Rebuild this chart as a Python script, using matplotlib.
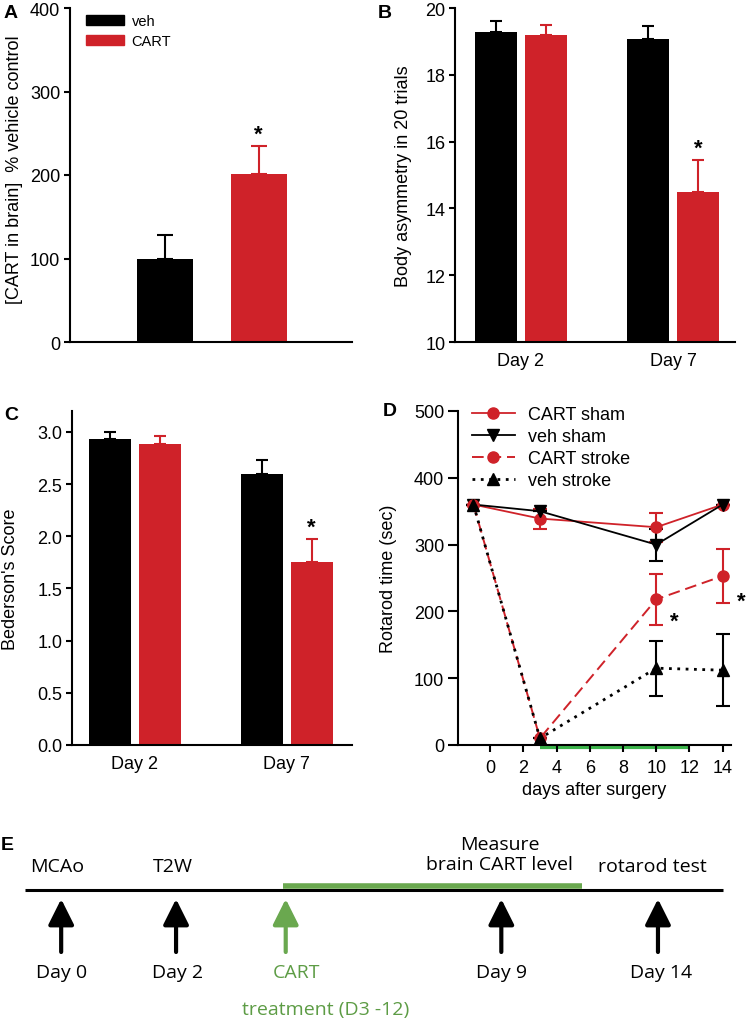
import numpy as np
import matplotlib
matplotlib.use("Agg")
import matplotlib.pyplot as plt
from matplotlib.patches import Patch
from matplotlib.lines import Line2D

# ============================================================
# DATA
# ============================================================

# --- Panel A: brain CART level
a_groups = ["veh", "CART"]
a_values = [100, 201]
a_errors = [28, 34]

# --- Panels B / C: behaviour per day
bc_days = ["Day 2", "Day 7"]

b_veh = [19.28, 19.08]
b_veh_err = [0.32, 0.37]
b_cart = [19.20, 14.50]
b_cart_err = [0.30, 0.95]

c_veh = [2.93, 2.60]
c_veh_err = [0.07, 0.13]
c_cart = [2.88, 1.75]
c_cart_err = [0.08, 0.22]

# --- Panel D: rotarod
d_days = [-1, 3, 10, 14]
cart_sham = [360, 339, 326, 360]
cart_sham_err = [0, 15, 22, 0]
veh_sham = [360, 350, 300, 360]
veh_sham_err = [0, 0, 24, 0]
cart_stroke = [360, 10, 218, 253]
cart_stroke_err = [0, 0, 38, 41]
veh_stroke = [360, 10, 115, 112]
veh_stroke_err = [0, 0, 41, 54]
treatment_days = [3, 12]
d_sig_days = [11.1, 15.1]
d_sig_values = [185, 215]

# --- Panel E: timeline (schematic positions, 0-100 across the figure)
timeline_span = [3.4, 96.9]
treatment_span = [37.9, 78.0]
event_pos = [8.2, 23.6, 38.3, 67.2, 88.2]
event_top = ["MCAo", "T2W", "", "Measure\nbrain CART level", "rotarod test"]
event_top_pos = [7.6, 23.2, 38.3, 67.0, 87.5]
event_day = ["Day 0", "Day 2", "CART", "Day 9", "Day 14"]
event_day_pos = [8.2, 23.8, 39.8, 67.2, 88.6]
event_is_treatment = [False, False, True, False, False]
treatment_label = "treatment (D3 -12)"

# ============================================================
# STYLE
# ============================================================

plt.rcParams["font.family"] = ["Liberation Sans", "DejaVu Sans"]
plt.rcParams["font.size"] = 13

RED = "#cf2229"
BLACK = "#000000"
GREEN_D = "#3cb44b"
GREEN_E = "#6aa84f"
GREEN_E_TEXT = "#5d9c45"

W, H = 746, 1020
BAR_W = 0.276
BAR_OFF = 0.164

fig = plt.figure(figsize=(W / 100, H / 100), dpi=100)


def px_axes(left, top, right, bottom):
    return fig.add_axes([left / W, 1 - bottom / H, (right - left) / W, (bottom - top) / H])


def style_axes(ax, ytick_len=4):
    for side in ["top", "right"]:
        ax.spines[side].set_visible(False)
    for side in ["left", "bottom"]:
        ax.spines[side].set_linewidth(1.5)
    ax.tick_params(axis="y", direction="out", length=ytick_len, width=1.5, pad=3, labelsize=13)


def star_above(ax, x, y):
    ax.annotate("*", xy=(x, y), xytext=(0, 1), textcoords="offset points",
                ha="center", va="bottom", fontsize=16, fontweight="bold")


# ============================================================
# PANEL A
# ============================================================

ax_a = px_axes(70, 9, 352, 343)
style_axes(ax_a)
a_x = np.arange(len(a_groups))
a_colors = [BLACK, RED]
for i in range(len(a_groups)):
    ax_a.bar(a_x[i], a_values[i], 0.6, color=a_colors[i],
             yerr=[[0], [a_errors[i]]],
             error_kw=dict(ecolor=a_colors[i], elinewidth=1.5, capsize=6, capthick=1.5))
star_above(ax_a, a_x[1], a_values[1] + a_errors[1])
ax_a.set_ylim(0, 400)
ax_a.set_xlim(-1.02, 2.0)
ax_a.set_yticks([0, 100, 200, 300, 400])
ax_a.set_xticks([])
ax_a.set_ylabel("[CART in brain]  % vehicle control", fontsize=13)
ax_a.yaxis.set_label_coords(-0.165, 0.52)
ax_a.legend(handles=[Patch(color=c, label=g) for g, c in zip(a_groups, a_colors)],
            loc="upper left", bbox_to_anchor=(0.045, 0.99), frameon=False,
            fontsize=10.5, handlelength=2.6, handleheight=0.6,
            handletextpad=0.55, labelspacing=0.4, borderaxespad=0, borderpad=0.2)

# ============================================================
# PANELS B / C
# ============================================================


def grouped_bars(ax, veh, veh_err, cart, cart_err):
    x = np.arange(len(bc_days))
    zeros = np.zeros(len(x))
    ax.bar(x - BAR_OFF, veh, BAR_W, color=BLACK, yerr=[zeros, veh_err],
           error_kw=dict(ecolor=BLACK, elinewidth=1.5, capsize=4, capthick=1.5))
    ax.bar(x + BAR_OFF, cart, BAR_W, color=RED, yerr=[zeros, cart_err],
           error_kw=dict(ecolor=RED, elinewidth=1.5, capsize=4, capthick=1.5))
    ax.set_xticks(x)
    ax.set_xticklabels(bc_days)
    ax.tick_params(axis="x", length=0, pad=7, labelsize=13)
    return x


ax_b = px_axes(455, 9, 735, 343)
style_axes(ax_b)
b_x = grouped_bars(ax_b, b_veh, b_veh_err, b_cart, b_cart_err)
star_above(ax_b, b_x[1] + BAR_OFF, b_cart[1] + b_cart_err[1])
ax_b.set_ylim(10, 20)
ax_b.set_xlim(-0.434, 1.408)
ax_b.set_yticks([10, 12, 14, 16, 18, 20])
ax_b.set_ylabel("Body asymmetry in 20 trials", fontsize=13)
ax_b.yaxis.set_label_coords(-0.152, 0.5)

ax_c = px_axes(72, 412, 352, 746)
style_axes(ax_c)
c_x = grouped_bars(ax_c, c_veh, c_veh_err, c_cart, c_cart_err)
star_above(ax_c, c_x[1] + BAR_OFF, c_cart[1] + c_cart_err[1])
ax_c.set_ylim(0, 3.2)
ax_c.set_xlim(-0.414, 1.43)
ax_c.set_yticks(np.arange(0, 3.01, 0.5))
ax_c.set_yticklabels([f"{v:.1f}" for v in np.arange(0, 3.01, 0.5)])
ax_c.set_ylabel("Bederson's Score", fontsize=13)
ax_c.yaxis.set_label_coords(-0.19, 0.5)

# ============================================================
# PANEL D
# ============================================================

ax_d = px_axes(458, 412, 731, 746)
style_axes(ax_d, ytick_len=7)
ax_d.tick_params(axis="x", direction="out", length=5, width=1.5, pad=5, labelsize=13)

series = [
    ("CART sham", cart_sham, cart_sham_err, RED, "o", "-", 1.3),
    ("veh sham", veh_sham, veh_sham_err, BLACK, "v", "-", 1.3),
    ("CART stroke", cart_stroke, cart_stroke_err, RED, "o", (0, (6, 3)), 1.4),
    ("veh stroke", veh_stroke, veh_stroke_err, BLACK, "^", (0, (1, 2)), 2.0),
]
handles = []
for label, vals, errs, color, marker, ls, lw in series:
    ax_d.errorbar(d_days, vals, yerr=errs, fmt="none", ecolor=color,
                  elinewidth=1.5, capsize=5, capthick=1.5, zorder=2)
    ax_d.plot(d_days, vals, color=color, linestyle=ls, linewidth=lw,
              marker=marker, markersize=8, markerfacecolor=color,
              markeredgecolor=color, zorder=3)
    handles.append(Line2D([], [], color=color, linestyle=ls, linewidth=lw,
                          marker=marker, markersize=8, label=label))

ax_d.plot(treatment_days, [-3, -3], color=GREEN_D, linewidth=3,
          clip_on=False, zorder=1, solid_capstyle="butt")
for dx, dy in zip(d_sig_days, d_sig_values):
    ax_d.text(dx, dy, "*", ha="center", va="center", fontsize=16,
              fontweight="bold", clip_on=False)

ax_d.set_xlim(-1.93, 14.5)
ax_d.set_ylim(0, 500)
ax_d.set_xticks(np.arange(0, 15, 2))
ax_d.set_yticks(np.arange(0, 501, 100))
ax_d.set_xlabel("days after surgery", fontsize=13)
ax_d.set_ylabel("Rotarod time (sec)", fontsize=13)
ax_d.yaxis.set_label_coords(-0.225, 0.5)
ax_d.legend(handles=handles, loc="upper left", bbox_to_anchor=(0.05, 1.015),
            frameon=False, fontsize=13, handlelength=2.4, handletextpad=0.7,
            labelspacing=0.28, borderaxespad=0, borderpad=0)

# ============================================================
# PANEL E: TIMELINE
# ============================================================

ax_e = px_axes(0, 820, W, H)
ax_e.set_xlim(0, 100)
ax_e.set_ylim(100, 0)
ax_e.axis("off")

E_FONT = ["Open Sans", "DejaVu Sans"]
E_SIZE = 14
ax_e.plot(timeline_span, [35.5, 35.5], color=BLACK, linewidth=2.2,
          solid_capstyle="butt")
ax_e.plot(treatment_span, [33.6, 33.6], color=GREEN_E, linewidth=4,
          solid_capstyle="butt")

for pos, top, top_pos, day, day_pos, is_tr in zip(
        event_pos, event_top, event_top_pos, event_day, event_day_pos,
        event_is_treatment):
    arrow_color = GREEN_E if is_tr else BLACK
    ax_e.annotate("", xy=(pos, 40), xytext=(pos, 66.5),
                  arrowprops=dict(arrowstyle="-|>,head_length=1.2,head_width=0.6",
                                  lw=3, color=arrow_color, shrinkA=0, shrinkB=0))
    ax_e.text(day_pos, 76.5, day, ha="center", va="center", fontsize=E_SIZE,
              family=E_FONT, color=GREEN_E_TEXT if is_tr else BLACK)
    if top:
        ax_e.text(top_pos, 23.5 if "\n" not in top else 17.5, top,
                  ha="center", va="center", fontsize=E_SIZE, family=E_FONT,
                  linespacing=1.2)

ax_e.text(43.7, 95, treatment_label, ha="center", va="center", fontsize=E_SIZE,
          family=E_FONT, color=GREEN_E_TEXT)

# ============================================================
# PANEL LETTERS
# ============================================================

for letter, x, y in [("A", 4, 13), ("B", 378, 13), ("C", 4, 416),
                     ("D", 383, 411), ("E", 1, 845)]:
    fig.text(x / W, 1 - y / H, letter, ha="left", va="center",
             fontsize=14, fontweight="bold")

fig.savefig("out.png", dpi=100)
